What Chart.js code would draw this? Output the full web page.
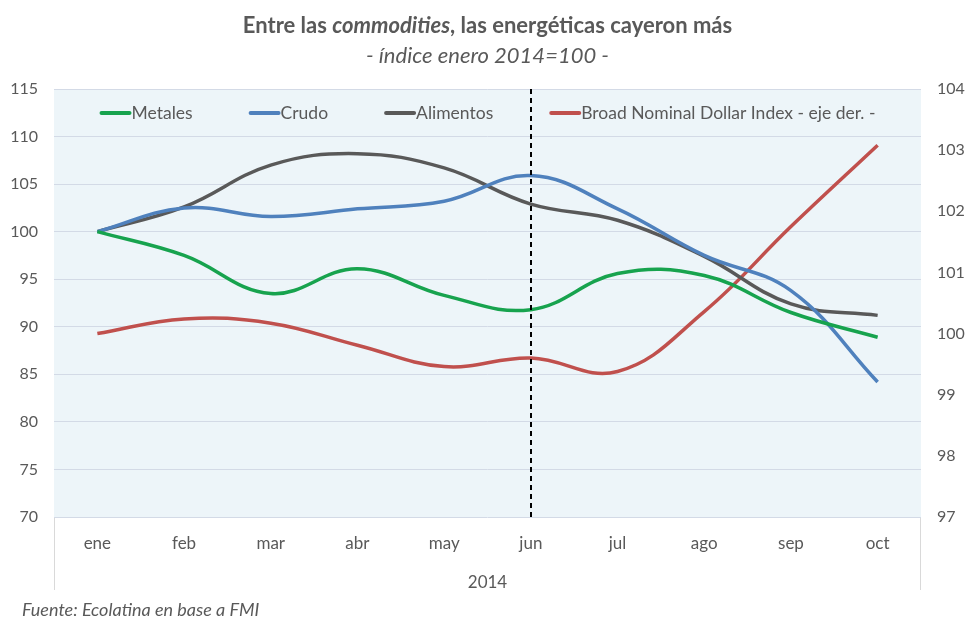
<!DOCTYPE html>
<html>
<head>
<meta charset="utf-8">
<script src="https://cdn.jsdelivr.net/npm/chart.js@4/dist/chart.umd.min.js"></script>
<style>
  html, body { margin: 0; padding: 0; background: #fff; }
  body { width: 975px; height: 635px; position: relative; overflow: hidden; font-family: Lato, "Open Sans", sans-serif; color: #595959; }
  #wrap { position: absolute; left: 0; top: 0; width: 975px; height: 635px; }
  .title { position: absolute; left: 0; width: 975px; text-align: center; font-size: 22px; }
  #t1 { top: 11px; font-weight: bold; }
  #t2 { top: 41px; font-style: italic; }
  #src { position: absolute; left: 22px; top: 598px; font-size: 18px; font-style: italic; }
</style>
</head>
<body>
<div id="wrap"><canvas id="myChart" width="975" height="635"></canvas></div>
<div class="title" id="t1">Entre las <i>commodities</i>, las energéticas cayeron más</div>
<div class="title" id="t2">- índice enero 2014=100 -</div>
<div id="src">Fuente: Ecolatina en base a FMI</div>
<script>
const months = ['ene', 'feb', 'mar', 'abr', 'may', 'jun', 'jul', 'ago', 'sep', 'oct'];
const metales = [100, 97.5, 93.5, 96.1, 93.3, 91.8, 95.6, 95.4, 91.5, 88.9];
const crudo = [100, 102.5, 101.6, 102.4, 103.2, 105.9, 102.4, 97.5, 93.8, 84.2];
const alimentos = [100, 102.6, 107.0, 108.2, 106.7, 102.9, 101.2, 97.4, 92.4, 91.2];
const dolar = [100.0, 100.24, 100.17, 99.81, 99.46, 99.6, 99.38, 100.36, 101.75, 103.08];
const markMonth = 'jun';
const yearLabel = '2014';

const FONT = 'Lato, "Open Sans", sans-serif';
const TXT = '#595959';

const makeSet = (label, data, color, axis) => ({
  label: label,
  data: data,
  borderColor: color,
  backgroundColor: color,
  borderWidth: 3.5,
  pointRadius: 0,
  tension: 0.4,
  yAxisID: axis,
  fill: false,
});

// fondo celeste del area, lineas laterales y linea punteada de junio
const decor = {
  id: 'decor',
  beforeDraw(chart) {
    const { ctx, chartArea: a } = chart;
    ctx.save();
    ctx.fillStyle = '#EDF5F9';
    ctx.fillRect(a.left, a.top, a.right - a.left, a.bottom - a.top);
    ctx.strokeStyle = '#D9D9D9';
    ctx.lineWidth = 1;
    ctx.beginPath();
    ctx.moveTo(a.left + 0.5, a.bottom);
    ctx.lineTo(a.left + 0.5, a.bottom + 73);
    ctx.moveTo(a.right - 0.5, a.bottom);
    ctx.lineTo(a.right - 0.5, a.bottom + 73);
    ctx.stroke();
    ctx.restore();
  },
  afterDatasetsDraw(chart) {
    const { ctx, chartArea: a } = chart;
    const x = Math.round(chart.scales.x.getPixelForValue(months.indexOf(markMonth)));
    ctx.save();
    ctx.strokeStyle = '#000';
    ctx.lineWidth = 2;
    ctx.setLineDash([5, 4]);
    ctx.beginPath();
    ctx.moveTo(x, a.top);
    ctx.lineTo(x, a.bottom + 4);
    ctx.stroke();
    ctx.restore();
  },
};

// leyenda dentro del area, estilo Excel
const insideLegend = {
  id: 'insideLegend',
  afterDraw(chart) {
    const { ctx, chartArea: a } = chart;
    const sets = chart.data.datasets;
    const lineW = 30, textGap = 2, itemGap = 56;
    ctx.save();
    ctx.font = '17.5px ' + FONT;
    const widths = sets.map((d) => lineW + textGap + ctx.measureText(d.label).width);
    const total = widths.reduce((s, w) => s + w, 0) + itemGap * (sets.length - 1);
    let x = (a.left + a.right) / 2 - total / 2;
    const y = a.top + 24;
    ctx.textBaseline = 'middle';
    sets.forEach((d, i) => {
      ctx.strokeStyle = d.borderColor;
      ctx.lineWidth = 4;
      ctx.lineCap = 'round';
      ctx.beginPath();
      ctx.moveTo(x + 2, y);
      ctx.lineTo(x + lineW, y);
      ctx.stroke();
      ctx.fillStyle = TXT;
      ctx.fillText(d.label, x + lineW + textGap, y);
      x += widths[i] + itemGap;
    });
    ctx.restore();
  },
};

const ctx = document.getElementById('myChart').getContext('2d');
const myChart = new Chart(ctx, {
  type: 'line',
  data: {
    labels: months,
    datasets: [
      makeSet('Metales', metales, '#17A34E', 'y'),
      makeSet('Crudo', crudo, '#4F81BD', 'y'),
      makeSet('Alimentos', alimentos, '#595959', 'y'),
      makeSet('Broad Nominal Dollar Index - eje der. -', dolar, '#C0504D', 'y1'),
    ],
  },
  options: {
    responsive: false,
    animation: false,
    devicePixelRatio: 1,
    layout: { padding: { top: 89, left: 0, right: 0, bottom: 38 } },
    plugins: {
      legend: { display: false },
      tooltip: { enabled: false },
    },
    scales: {
      x: {
        offset: true,
        grid: { display: false },
        border: { display: false },
        ticks: { color: TXT, font: { family: FONT, size: 17 }, padding: 8 },
        title: { display: true, text: yearLabel, color: TXT, font: { family: FONT, size: 17 }, padding: { top: 12 } },
        afterFit: (s) => { s.height = 80; },
      },
      y: {
        position: 'left',
        min: 70,
        max: 115,
        ticks: { stepSize: 5, color: TXT, font: { family: FONT, size: 16 }, padding: 16 },
        grid: { color: '#D3DAE6', drawTicks: false },
        border: { display: false },
        afterFit: (s) => { s.width = 54; },
      },
      y1: {
        position: 'right',
        min: 97,
        max: 104,
        ticks: { stepSize: 1, color: TXT, font: { family: FONT, size: 16 }, padding: 16 },
        grid: { display: false, drawTicks: false },
        border: { display: false },
        afterFit: (s) => { s.width = 54; },
      },
    },
  },
  plugins: [decor, insideLegend],
});
</script>
</body>
</html>
